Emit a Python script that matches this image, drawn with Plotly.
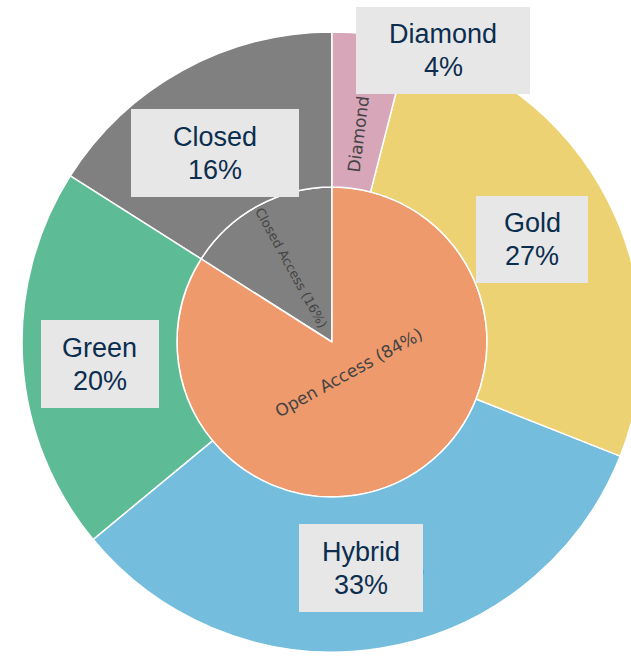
import plotly.graph_objects as go

# ---- data ----
ids = ["Closed Access", "Open Access", "Closed", "Green", "Hybrid", "Gold", "Diamond"]
labels = ["Closed Access", "Open Access", "Closed", "Green", "Hybrid", "Gold", "Diamond"]
parents = ["", "", "Closed Access", "Open Access", "Open Access", "Open Access", "Open Access"]
values = [16, 84, 16, 20, 33, 27, 4]
colors = ["#808080", "#EE9A6D", "#808080", "#5DBC95", "#74BDDD", "#ECD272", "#D8A6B9"]

box_labels = ["Diamond", "Gold", "Hybrid", "Green", "Closed"]
box_values = [4, 27, 33, 20, 16]

# ---- layout geometry (pixels) ----
W, H = 642, 657
ML, MR, MT, MB = 22, 0, 32, 5
PW, PH = W - ML - MR, H - MT - MB

def px_x(x):
    return (x - ML) / PW

def px_y(y):
    return 1 - (y - MT) / PH

# box rectangles: (x0, y0, x1, y1) in pixels
boxes = [
    (356, 7, 530, 94),
    (476, 196, 588, 283),
    (299, 524, 423, 612),
    (41, 320, 159, 408),
    (131, 109, 299, 197),
]

fig = go.Figure(go.Sunburst(
    ids=ids, labels=labels, parents=parents, values=values,
    branchvalues="total", sort=False, rotation=90,
    marker=dict(colors=colors, line=dict(color="white", width=1.5)),
    leaf=dict(opacity=1),
    texttemplate="%{label} (%{percentRoot:.0%})",
    insidetextfont=dict(family="DejaVu Sans", size=17, color="#444"),
    hoverinfo="skip",
))

shapes = []
annotations = []
for (x0, y0, x1, y1), lab, val in zip(boxes, box_labels, box_values):
    shapes.append(dict(type="rect", xref="paper", yref="paper",
                       x0=px_x(x0), x1=px_x(x1), y0=px_y(y1), y1=px_y(y0),
                       fillcolor="#E7E7E7", line=dict(width=0), layer="above"))
    cx = (x0 + x1) / 2
    cy = (y0 + y1) / 2
    for txt, dy in ((lab, -16.5), (f"{val}%", 16.5)):
        annotations.append(dict(text=txt, x=px_x(cx), y=px_y(cy + dy),
                                xref="paper", yref="paper", showarrow=False,
                                xanchor="center", yanchor="middle",
                                font=dict(family="Liberation Sans, Arial", size=27, color="#0B2E4F")))

fig.update_layout(width=W, height=H, margin=dict(l=ML, r=MR, t=MT, b=MB),
                  paper_bgcolor="white", showlegend=False,
                  shapes=shapes, annotations=annotations)

fig.write_html("out.html",
               post_script="document.documentElement.style.overflow='hidden';document.body.style.overflow='hidden';")
